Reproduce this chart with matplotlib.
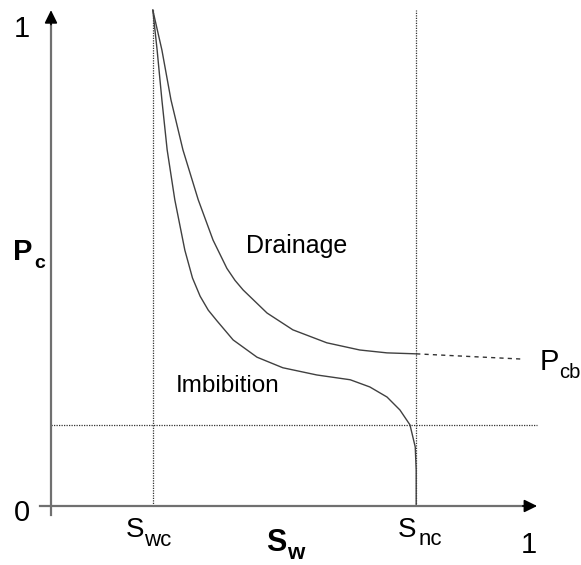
import numpy as np
import matplotlib
matplotlib.use('Agg')
import matplotlib.pyplot as plt

plt.rcParams['font.family'] = ['Liberation Sans', 'DejaVu Sans']

# saturation end points and the low pressure level (dotted lines)
s_wc = 0.213
s_nc = 0.764
p_low = 0.169

# drainage curve
drain_sw = [0.213, 0.232, 0.251, 0.276, 0.308, 0.339, 0.368, 0.385, 0.402, 0.452, 0.506,
            0.577, 0.646, 0.703, 0.764]
drain_pc = [1.033, 0.950, 0.846, 0.742, 0.638, 0.554, 0.495, 0.470, 0.450, 0.402, 0.367,
            0.340, 0.325, 0.319, 0.317]

# imbibition curve
imb_sw = [0.213, 0.222, 0.232, 0.243, 0.259, 0.280, 0.296, 0.312, 0.329, 0.347, 0.381,
          0.431, 0.485, 0.556, 0.626, 0.667, 0.703, 0.730, 0.751, 0.762, 0.764, 0.764]
imb_pc = [1.033, 0.950, 0.846, 0.742, 0.638, 0.533, 0.475, 0.437, 0.408, 0.386, 0.346,
          0.310, 0.288, 0.273, 0.263, 0.248, 0.227, 0.200, 0.169, 0.123, 0.075, 0.0]

# extension of drainage curve towards P_cb
pcb_sw = [0.764, 0.987]
pcb_pc = [0.317, 0.306]

W, H = 581, 565
fig = plt.figure(figsize=(W / 100, H / 100), dpi=100)
ax = fig.add_axes([0, 0, 1, 1])
ax.set_xlim(-51 / 478, 530 / 478)
ax.set_ylim(-59 / 480, 506 / 480)
ax.axis('off')

y_top = 1.033
x_end = 1.017

# dotted guide lines
ax.plot([s_wc, s_wc], [0, y_top], color='#333333', lw=0.9, ls=(0, (1, 1)))
ax.plot([s_nc, s_nc], [0, y_top], color='#333333', lw=0.9, ls=(0, (1, 1)))
ax.plot([0, x_end], [p_low, p_low], color='#333333', lw=0.9, ls=(0, (1, 1)))

# curves
ax.plot(drain_sw, drain_pc, color='#404040', lw=1.0, solid_joinstyle='round')
ax.plot(imb_sw, imb_pc, color='#404040', lw=1.0, solid_joinstyle='round')
ax.plot(pcb_sw, pcb_pc, color='#333333', lw=1.0, ls=(0, (3, 3)))

# axes with arrows
ax.plot([0, 0], [-0.019, y_top - 0.02], color='#707070', lw=1.6)
ax.plot([-0.023, x_end - 0.02], [0, 0], color='#707070', lw=1.6)
arr = dict(arrowstyle='-|>,head_length=0.65,head_width=0.32', color='black', lw=1.2,
           mutation_scale=12, shrinkA=0, shrinkB=0)
ax.annotate('', xy=(0, y_top), xytext=(0, y_top - 0.03), arrowprops=arr)
ax.annotate('', xy=(x_end, 0), xytext=(x_end - 0.03, 0), arrowprops=arr)


def t(px, py, s, size, ha='left', weight='normal'):
    fig.text(px / W, 1 - py / H, s, fontsize=size, ha=ha, va='baseline',
             fontweight=weight, color='black')


t(22, 37, '1', 21, ha='center')
t(22, 521, '0', 21, ha='center')
t(529, 553, '1', 21, ha='center')

t(126, 537, 'S', 20)
t(144, 546, 'wc', 16)
t(266, 551, 'S', 22, weight='bold')
t(287, 559, 'w', 16, weight='bold')
t(398, 537, 'S', 20)
t(419, 545, 'nc', 16)

t(13, 260, 'P', 21, weight='bold')
t(34, 268, 'c', 14, weight='bold')

t(246, 253, 'Drainage', 18)
t(176, 392, 'Imbibition', 17.5)

t(540, 370, 'P', 21)
t(559, 378, 'cb', 14.5)

fig.savefig('out.png', dpi=100)
